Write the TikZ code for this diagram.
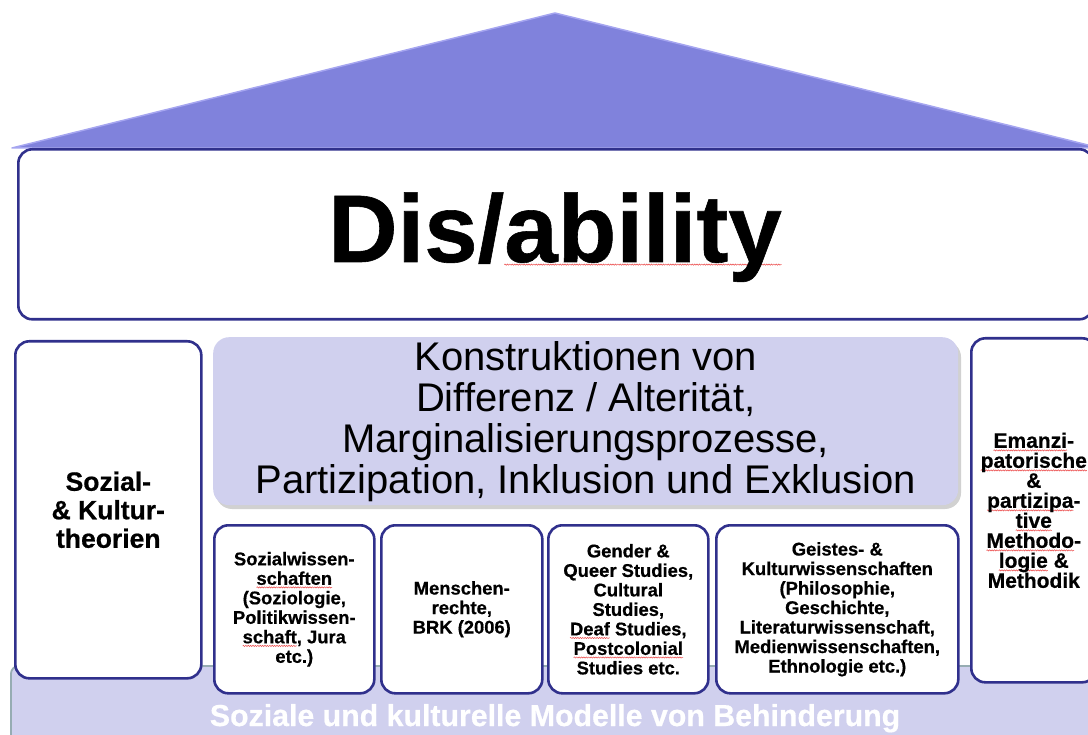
\documentclass[tikz,border=0pt]{standalone}
\usepackage{fontspec}
\setmainfont{Liberation Sans}[BoldFeatures={FakeBold=0.6}]
\usetikzlibrary{decorations.pathmorphing}
\definecolor{roof}{RGB}{128,130,220}
\definecolor{roofedge}{RGB}{165,165,240}
\definecolor{navy}{RGB}{48,48,140}
\definecolor{lilac}{RGB}{208,208,238}
\definecolor{bandedge}{RGB}{150,172,178}
\definecolor{spellred}{RGB}{235,70,70}
\newsavebox\spellbox
\newcommand\spell[1]{\sbox\spellbox{#1}\leavevmode\rlap{\tikz[baseline=0pt,x=1pt,y=1pt]{\useasboundingbox (0,0);\path[draw=spellred,fill=none,sharp corners,line width=0.5pt,decorate,decoration={snake,amplitude=0.6pt,segment length=2.4pt}] (0,-2.6) -- (\the\wd\spellbox,-2.6);}}\usebox\spellbox}
\tikzset{
  whitebox/.style={draw=navy, line width=2.6pt, fill=white, rounded corners=14pt, inner sep=0pt, align=center},
  smallbox/.style={whitebox, minimum height=168pt, font=\fontsize{18.4}{19.5}\selectfont\bfseries},
  lilacbox/.style={fill=lilac, rounded corners=16pt, inner sep=0pt, align=center},
}
\begin{document}
\begin{tikzpicture}[x=1pt,y=-1pt]
\useasboundingbox (0,0) rectangle (1088,735);
\clip (0,0) rectangle (1088,735);
% base band
\node[fill=lilac, draw=bandedge, line width=1.8pt, rounded corners=8pt, minimum width=1090pt, minimum height=80pt, inner sep=0pt, anchor=north west] (base) at (10,665) {};
\node[font=\fontsize{30.3}{32}\selectfont\bfseries, text=white, anchor=base] (basetext) at (555,726) {Soziale und kulturelle Modelle von Behinderung};
% pillars
\node[whitebox, minimum width=186pt, minimum height=337pt, anchor=north west, font=\fontsize{26.5}{28.5}\selectfont\bfseries] (left) at (14,340) {Sozial-\\\& Kultur-\\theorien};
\node[whitebox, minimum width=125pt, minimum height=344pt, anchor=north west, font=\fontsize{21}{20}\selectfont\bfseries] (right) at (970,337) {\spell{Emanzi}-\\\spell{patorische}\\\&\\\spell{partizipa}-\\\spell{tive}\\\spell{Methodo}-\\\spell{logie} \&\\Methodik};
% construction box with shadow
\fill[black!18, rounded corners=16pt] (216,341) rectangle (961,509);
\node[lilacbox, minimum width=745pt, minimum height=168pt, anchor=north west, font=\fontsize{40}{41}\selectfont] (konstr) at (213,337) {Konstruktionen von\\Differenz / Alterität,\\Marginalisierungsprozesse,\\Partizipation, Inklusion und Exklusion};
% small boxes
\node[smallbox, minimum width=160pt, anchor=north west] (sowi) at (213,524) {Sozialwissen-\\\spell{schaften}\\(Soziologie,\\Politikwissen-\\\spell{schaft}, Jura\\etc.)};
\node[smallbox, minimum width=161pt, anchor=north west] (mr) at (380,524) {Menschen-\\rechte,\\BRK (2006)};
\node[smallbox, minimum width=160pt, anchor=north west] (gender) at (547,524) {Gender \&\\Queer Studies,\\Cultural\\Studies,\\\spell{Deaf} Studies,\\\spell{Postcolonial}\\Studies etc.};
\node[smallbox, minimum width=242pt, anchor=north west] (geist) at (715,524) {Geistes- \&\\Kulturwissenschaften\\(Philosophie,\\Geschichte,\\Literaturwissenschaft,\\Medienwissenschaften,\\Ethnologie etc.)};
% roof
\coordinate (apex) at (555,13);
\coordinate (rl) at (12,148);
\coordinate (rr) at (1100,148);
\filldraw[fill=roof, draw=roofedge, line width=1.5pt, line join=round] (rl) -- (apex) -- (rr) -- cycle;
% Dis/ability box
\node[whitebox, minimum width=1075pt, minimum height=170pt, anchor=north west] (dis) at (17,148) {};
\node[font=\fontsize{96}{100}\selectfont\bfseries, anchor=base] (distext) at (555,262) {Dis/\spell{ability}};
\end{tikzpicture}
\end{document}
